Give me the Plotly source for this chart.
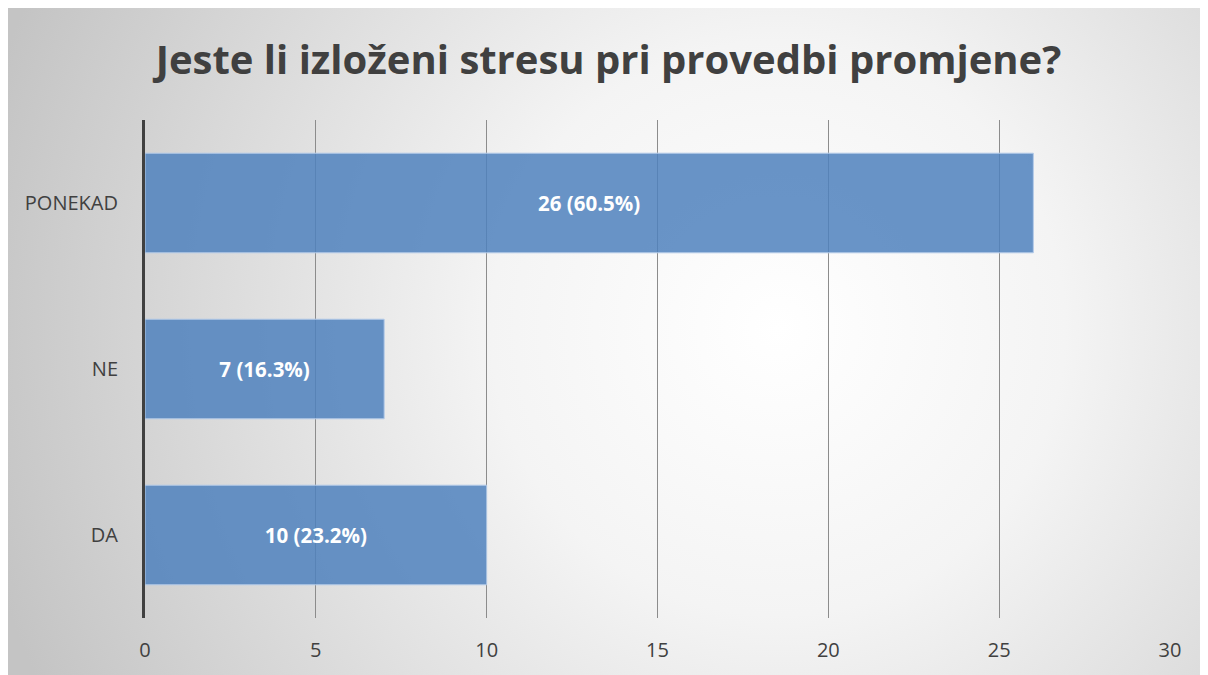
"""Horizontal bar chart: Jeste li izloženi stresu pri provedbi promjene?"""

import base64

import plotly.graph_objects as go

categories = ["DA", "NE", "PONEKAD"]
counts = [10, 7, 26]
shares = ["23.2%", "16.3%", "60.5%"]
x_ticks = [0, 5, 10, 15, 20, 25, 30]

FONT = "Open Sans"
TEXT = "#404040"
W, H = 1201, 668

# radial grey backdrop, like the office chart style
svg = f"""<svg xmlns='http://www.w3.org/2000/svg' width='{W}' height='{H}' viewBox='0 0 {W} {H}'>
<defs><radialGradient id='g' gradientUnits='userSpaceOnUse' cx='770' cy='320' r='820'>
<stop offset='0' stop-color='#ffffff'/><stop offset='0.35' stop-color='#f4f4f4'/>
<stop offset='1' stop-color='#c4c4c4'/></radialGradient></defs>
<rect width='{W}' height='{H}' fill='url(#g)'/></svg>"""
bg_src = "data:image/svg+xml;base64," + base64.b64encode(svg.encode()).decode()

labels = [f"{c} ({s})" for c, s in zip(counts, shares)]

fig = go.Figure()
fig.add_trace(
    go.Bar(
        y=categories,
        x=counts,
        orientation="h",
        width=0.6,
        text=labels,
        textposition="inside",
        insidetextanchor="middle",
        textfont=dict(family=FONT, size=20.5, color="white", weight="bold"),
        marker=dict(color="rgba(79,129,189,0.85)", line=dict(color="#b4cbe9", width=1)),
        hoverinfo="skip",
    )
)

# page body margin is 8px, so the figure starts at (8, 8) of the window
L, R, T, B = 137, 39, 112, 58
pw, ph = W - L - R, H - T - B

fig.add_layout_image(
    source=bg_src,
    xref="paper",
    yref="paper",
    x=-L / pw,
    y=(H - B) / ph,
    sizex=W / pw,
    sizey=H / ph,
    xanchor="left",
    yanchor="top",
    sizing="stretch",
    layer="below",
)

fig.update_layout(
    width=W,
    height=H,
    margin=dict(l=L, r=R, t=T, b=B),
    paper_bgcolor="#c8c8c8",
    plot_bgcolor="rgba(0,0,0,0)",
    showlegend=False,
    font=dict(family=FONT, color=TEXT),
    title=dict(
        text="Jeste li izloženi stresu pri provedbi promjene?",
        x=0.5,
        xref="container",
        xanchor="center",
        y=1 - 52 / H,
        yref="container",
        yanchor="middle",
        font=dict(family=FONT, size=40, color=TEXT, weight="bold"),
    ),
    xaxis=dict(
        range=[0, 30],
        tickvals=x_ticks,
        showgrid=True,
        gridcolor="#8c8c8c",
        gridwidth=1,
        zeroline=False,
        showline=False,
        ticks="",
        ticklabelstandoff=18,
        tickfont=dict(family=FONT, size=20, color=TEXT),
        fixedrange=True,
    ),
    yaxis=dict(
        range=[-0.5, 2.5],
        showgrid=False,
        zeroline=False,
        showline=True,
        linecolor="#404040",
        linewidth=3,
        ticks="",
        ticklabelstandoff=20,
        tickfont=dict(family=FONT, size=20, color=TEXT),
        fixedrange=True,
    ),
)

fig.write_html("out.html")
